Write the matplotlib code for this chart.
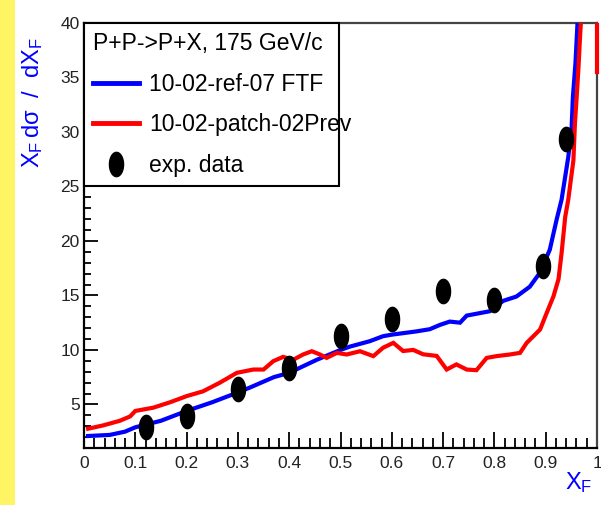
import matplotlib
matplotlib.use("Agg")
import matplotlib.pyplot as plt
from matplotlib import font_manager
from matplotlib.path import Path
from matplotlib.patches import Rectangle
from matplotlib.lines import Line2D
from matplotlib.ticker import MultipleLocator
import numpy as np

# ---- fonts -------------------------------------------------------------
available = {f.name for f in font_manager.fontManager.ttflist}
FONT = "Liberation Sans Narrow" if "Liberation Sans Narrow" in available else "Liberation Sans"
plt.rcParams["font.family"] = [FONT, "DejaVu Sans"]
plt.rcParams["mathtext.fontset"] = "custom"
plt.rcParams["mathtext.rm"] = FONT
plt.rcParams["mathtext.it"] = FONT + ":italic"
plt.rcParams["mathtext.bf"] = FONT + ":bold"

# ---- data --------------------------------------------------------------
title_text = "P+P->P+X, 175 GeV/c"
label_ftf = "10-02-ref-07 FTF"
label_prev = "10-02-patch-02Prev"
label_data = "exp. data"

ftf_x = [0.008, 0.05, 0.08, 0.10, 0.15, 0.20, 0.25, 0.30, 0.324, 0.37, 0.40,
         0.454, 0.50, 0.518, 0.557, 0.583, 0.60, 0.648, 0.674, 0.694, 0.713,
         0.733, 0.746, 0.791, 0.817, 0.843, 0.869, 0.889, 0.908, 0.921, 0.931,
         0.944, 0.9506, 0.953, 0.958, 0.962, 0.97]
ftf_y = [2.1, 2.2, 2.5, 2.9, 3.5, 4.4, 5.2, 6.1, 6.56, 7.5, 7.9,
         9.1, 10.0, 10.3, 10.8, 11.26, 11.4, 11.7, 11.9, 12.3, 12.6,
         12.5, 13.15, 13.55, 14.5, 14.9, 15.8, 17.1, 19.2, 21.9, 23.8,
         27.7, 30.5, 33.2, 36.3, 40.0, 46.0]

prev_x = [0.008, 0.037, 0.07, 0.09, 0.10, 0.135, 0.168, 0.20, 0.232, 0.265,
          0.298, 0.33, 0.35, 0.369, 0.388, 0.408, 0.427, 0.444, 0.46, 0.473,
          0.493, 0.512, 0.538, 0.564, 0.583, 0.603, 0.622, 0.642, 0.661,
          0.6875, 0.707, 0.726, 0.746, 0.765, 0.785, 0.804, 0.83, 0.85, 0.863,
          0.876, 0.889, 0.902, 0.915, 0.925, 0.931, 0.938, 0.944, 0.954,
          0.957, 0.9605, 0.964, 0.967, 0.975, 1.0, 1.0]
prev_y = [2.77, 3.07, 3.5, 3.9, 4.4, 4.7, 5.2, 5.76, 6.2, 7.0,
          7.9, 8.2, 8.2, 8.97, 9.36, 9.1, 9.58, 9.88, 9.58, 9.27,
          9.73, 9.58, 9.88, 9.43, 10.2, 10.65, 9.9, 10.0, 9.6,
          9.45, 8.2, 8.67, 8.2, 8.14, 9.27, 9.43, 9.58, 9.73, 10.65,
          11.26, 11.87, 13.4, 14.9, 16.5, 18.9, 22.2, 23.8, 27.4,
          30.8, 33.3, 36.0, 38.8, 45.0, 60.0, 35.5]

exp_x = [0.12, 0.20, 0.30, 0.40, 0.50, 0.60, 0.70, 0.80, 0.895, 0.94]
exp_y = [2.9, 3.9, 6.4, 8.3, 11.3, 12.85, 15.4, 14.6, 17.7, 29.4]

x_ticks = [0, 0.1, 0.2, 0.3, 0.4, 0.5, 0.6, 0.7, 0.8, 0.9, 1]
x_ticklabels = ["0", "0.1", "0.2", "0.3", "0.4", "0.5", "0.6", "0.7", "0.8", "0.9", "1"]
y_ticks = [5, 10, 15, 20, 25, 30, 35, 40]

# ---- figure ------------------------------------------------------------
W, H = 601, 505
fig = plt.figure(figsize=(W / 100, H / 100), dpi=100)
fig.patch.set_facecolor("white")
fig.patches.append(Rectangle((0, 0), 15 / W, 1, transform=fig.transFigure,
                             facecolor="#fff564", edgecolor="none", zorder=0))

ax = fig.add_axes([84 / W, 1 - 448 / H, (597 - 84) / W, (448 - 23) / H])
ax.set_xlim(0, 1)
ax.set_ylim(1, 40)

# elliptical marker (taller than wide)
t = np.linspace(0, 2 * np.pi, 60)
ellipse = Path(np.column_stack([0.29 * np.cos(t), 0.5 * np.sin(t)]), closed=True)

lw = 3.0
ax.plot(ftf_x, ftf_y, color="#0000ff", lw=lw, solid_joinstyle="miter", zorder=3)
prev_line, = ax.plot(prev_x, prev_y, color="#ff0000", lw=lw, solid_joinstyle="miter", zorder=3)
prev_line.set_clip_path(Rectangle((0, 0), 1.006, 1, transform=ax.transAxes))
ax.plot(exp_x, exp_y, linestyle="none", marker=ellipse, markersize=17.5,
        color="black", zorder=4)

# legend
h1 = Line2D([], [], color="#0000ff", lw=3.5)
h2 = Line2D([], [], color="#ff0000", lw=3.5)
h3 = Line2D([], [], linestyle="none", marker=ellipse, markersize=17.5, color="black")
leg = ax.legend([h1, h2, h3], [label_ftf, label_prev, label_data], title=title_text,
                loc="upper left", bbox_to_anchor=(0, 0, 0.498, 1), mode="expand",
                borderaxespad=0, fancybox=False, framealpha=1, edgecolor="black",
                fontsize=16.5, title_fontsize=16.5, alignment="left",
                handlelength=2.0, handletextpad=0.45, borderpad=0.38,
                labelspacing=0.78, numpoints=1)
leg.get_frame().set_linewidth(1.5)
leg.set_zorder(6)

# axes styling
for side in ("left", "bottom"):
    ax.spines[side].set_color("black")
    ax.spines[side].set_linewidth(1.6)
for side in ("top", "right"):
    ax.spines[side].set_color("#444444")
    ax.spines[side].set_linewidth(1.6)

ax.set_xticks(x_ticks)
ax.set_xticklabels(x_ticklabels)
ax.set_yticks(y_ticks)
ax.xaxis.set_minor_locator(MultipleLocator(0.02))
ax.yaxis.set_minor_locator(MultipleLocator(1))
ax.tick_params(axis="x", which="major", direction="in", length=11.5, width=1.3,
               pad=6, labelsize=12.5, colors="black", top=False)
ax.tick_params(axis="x", which="minor", direction="in", length=7, width=1.3, top=False)
ax.tick_params(axis="y", which="major", direction="in", length=10, width=1.3,
               pad=3, labelsize=12.5, colors="black", right=False)
ax.tick_params(axis="y", which="minor", direction="in", length=5, width=1.3, right=False)
for lab in ax.get_xticklabels() + ax.get_yticklabels():
    lab.set_color("#222222")

# axis titles
fig.text(33 / W, 1 - 37 / H, r"$\mathrm{X_{F}\,d\sigma\ \ /\ \ dX_{F}}$", rotation=90,
         ha="center", va="top", color="#0000ff", fontsize=17)
fig.text(592 / W, 1 - 470 / H, r"$\mathrm{X_{F}}$", ha="right", va="top",
         color="#0000ff", fontsize=17)

fig.savefig("out.png", dpi=100)
